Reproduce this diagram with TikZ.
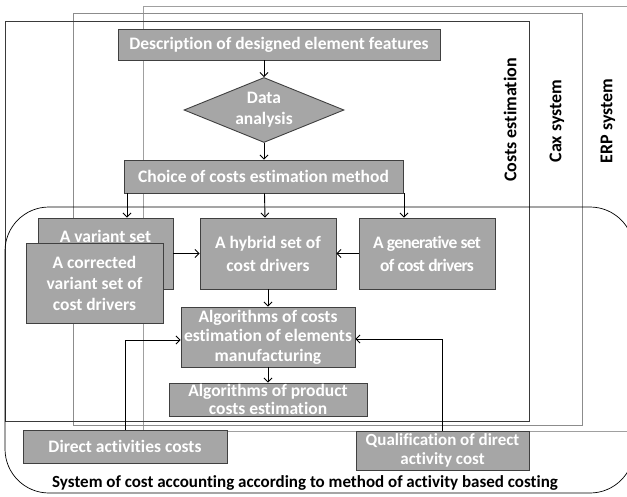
\documentclass[tikz,border=0pt]{standalone}
\usepackage{fontspec}
\setmainfont{Carlito}[Ligatures=NoCommon]
\usetikzlibrary{arrows.meta,shapes.geometric}
\definecolor{boxgray}{HTML}{A6A6A6}
\definecolor{boxline}{HTML}{404040}
\definecolor{framedark}{HTML}{3A3A3A}
\definecolor{framegray}{HTML}{8C8C8C}
\definecolor{framelight}{HTML}{A0A0A0}
\tikzset{
  box/.style={draw=boxline, fill=boxgray, line width=0.9pt, text=white,
    font=\bfseries\fontsize{17.5}{21}\selectfont, align=center, inner sep=0pt},
  boxtext/.style={text=white, font=\bfseries\fontsize{17.5}{21}\selectfont, align=center, inner sep=0pt},
  arr/.style={draw=black, line width=0.9pt, -{Straight Barb[length=4pt,width=8pt]}},
  sidelabel/.style={rotate=90, font=\bfseries\fontsize{18}{20}\selectfont, inner sep=0pt},
}
\begin{document}
\begin{tikzpicture}[x=1pt,y=-1pt]
\useasboundingbox (0,0) rectangle (627,496);
\begin{scope}
\clip (0,0) rectangle (627,496);
% frames
\draw[framelight, line width=0.8pt] (143,6) rectangle (660,431);
\draw[framegray, line width=0.8pt] (73,13) rectangle (582,425);
\draw[framedark, line width=0.9pt] (5,21) rectangle (529,421);
\draw[black, line width=0.7pt, rounded corners=44pt] (5,207) rectangle (634,493);
\end{scope}
% side labels
\node[sidelabel] (lce) at (510,120) {Costs estimation};
\node[sidelabel] (lcax) at (557,121) {Cax system};
\node[sidelabel] (lerp) at (608,121) {ERP system};
% boxes
\node[box, minimum width=322pt, minimum height=31pt] (desc) at (279,44.5) {Description of designed element features};
\node[box, shape=diamond, aspect=2.46, minimum width=160pt, minimum height=65pt, font=\bfseries\fontsize{17.5}{21}\selectfont] (data) at (264,110) {Data\\analysis};
\node[box, minimum width=279pt, minimum height=33pt] (choice) at (263.5,176.5) {Choice of costs estimation method};
\node[box, minimum width=135pt, minimum height=71pt] (variant) at (105.5,253.5) {};
\node[boxtext] (vartext) at (105.5,236) {A variant set};
\node[box, minimum width=137pt, minimum height=80pt, font=\bfseries\fontsize{17.5}{21}\selectfont] (corr) at (94.5,283) {A corrected\\variant set of\\cost drivers};
\node[box, minimum width=136pt, minimum height=71pt, font=\bfseries\fontsize{17.5}{23}\selectfont] (hybrid) at (268,253.5) {A hybrid set of\\cost drivers};
\node[box, minimum width=136pt, minimum height=71pt, font=\bfseries\fontsize{17.5}{23}\selectfont\addfontfeatures{LetterSpace=-4}] (gen) at (427,253.5) {A generative set\\of cost drivers};
\node[box, minimum width=174pt, minimum height=60pt, font=\bfseries\fontsize{17.5}{19.5}\selectfont] (algel) at (268,337) {Algorithms of costs\\estimation of elements\\manufacturing};
\node[box, minimum width=198pt, minimum height=33pt, font=\bfseries\fontsize{17.5}{18}\selectfont] (algprod) at (268,399.5) {Algorithms of product\\costs estimation};
\node[box, minimum width=204pt, minimum height=33pt] (direct) at (125,446.5) {Direct activities costs};
\node[box, minimum width=173pt, minimum height=39pt, font=\bfseries\fontsize{17}{19}\selectfont] (qual) at (442.5,450.5) {Qualification of direct\\activity cost};
% title
\node[font=\bfseries\fontsize{17}{19}\selectfont, inner sep=0pt] (title) at (305,483) {System of cost accounting according to method of activity based costing};
% arrows
\draw[arr] (data.north |- desc.south) -- (data.north);
\draw[arr] (data.south) -- (data.south |- choice.north);
\draw[arr] ([xshift=-136.5pt]choice.south) -- ([xshift=21.5pt]variant.north);
\draw[arr] ([xshift=1pt]choice.south) -- ([xshift=-3pt]hybrid.north);
\draw[arr] ([xshift=140.5pt]choice.south) -- ([xshift=-23pt]gen.north);
\draw[arr] (variant.east) -- (hybrid.west);
\draw[arr] (gen.west) -- (hybrid.east);
\draw[arr] (hybrid.south) -- (algel.north);
\draw[arr] (algel.south) -- (algprod.north);
\draw[arr] (direct.north) |- ([yshift=-3pt]algel.west);
\draw[arr] (qual.north) |- ([yshift=-2pt]algel.east);
\end{tikzpicture}
\end{document}
